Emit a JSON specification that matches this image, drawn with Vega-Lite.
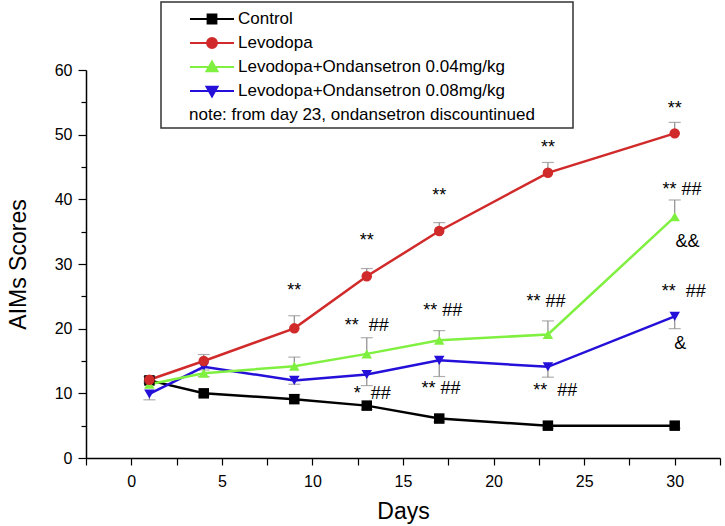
{
  "$schema": "https://vega.github.io/schema/vega-lite/v6.json",
  "width": 634,
  "height": 388,
  "autosize": "none",
  "padding": {"left": 86, "top": 70, "right": 5, "bottom": 68},
  "background": "white",
  "config": {
    "view": {"stroke": null},
    "font": "Liberation Sans",
    "axis": {"grid": false, "domainColor": "black", "domainWidth": 1.5, "tickColor": "black", "tickWidth": 1.2, "labelColor": "black", "titleColor": "black", "labelFont": "Liberation Sans", "titleFont": "Liberation Sans", "titleFontWeight": "normal", "labelFontSize": 16, "titleFontSize": 23}
  },
  "datasets": {
    "series": [
      {"group": "Control", "day": 1, "value": 12, "err": 11.6},
      {"group": "Control", "day": 4, "value": 10, "err": 9.6},
      {"group": "Control", "day": 9, "value": 9.1, "err": 9.8},
      {"group": "Control", "day": 13, "value": 8.1, "err": 7.5},
      {"group": "Control", "day": 17, "value": 6.1, "err": 5.6},
      {"group": "Control", "day": 23, "value": 5, "err": 4.6},
      {"group": "Control", "day": 30, "value": 5, "err": 4.6},
      {"group": "Levodopa+Ondansetron 0.08mg/kg", "day": 1, "value": 9.9, "err": 9.0},
      {"group": "Levodopa+Ondansetron 0.08mg/kg", "day": 4, "value": 14.1, "err": 12.6},
      {"group": "Levodopa+Ondansetron 0.08mg/kg", "day": 9, "value": 12, "err": 11.4},
      {"group": "Levodopa+Ondansetron 0.08mg/kg", "day": 13, "value": 12.9, "err": 11.2},
      {"group": "Levodopa+Ondansetron 0.08mg/kg", "day": 17, "value": 15.1, "err": 12.6},
      {"group": "Levodopa+Ondansetron 0.08mg/kg", "day": 23, "value": 14.1, "err": 12.5},
      {"group": "Levodopa+Ondansetron 0.08mg/kg", "day": 30, "value": 21.9, "err": 20.0},
      {"group": "Levodopa+Ondansetron 0.04mg/kg", "day": 1, "value": 11.4, "err": 11.9},
      {"group": "Levodopa+Ondansetron 0.04mg/kg", "day": 4, "value": 13.1, "err": 13.6},
      {"group": "Levodopa+Ondansetron 0.04mg/kg", "day": 9, "value": 14.2, "err": 15.6},
      {"group": "Levodopa+Ondansetron 0.04mg/kg", "day": 13, "value": 16.1, "err": 18.6},
      {"group": "Levodopa+Ondansetron 0.04mg/kg", "day": 17, "value": 18.2, "err": 19.7},
      {"group": "Levodopa+Ondansetron 0.04mg/kg", "day": 23, "value": 19.1, "err": 21.2},
      {"group": "Levodopa+Ondansetron 0.04mg/kg", "day": 30, "value": 37.3, "err": 39.9},
      {"group": "Levodopa", "day": 1, "value": 12.1, "err": 12.6},
      {"group": "Levodopa", "day": 4, "value": 15.0, "err": 16.0},
      {"group": "Levodopa", "day": 9, "value": 20.05, "err": 22.0},
      {"group": "Levodopa", "day": 13, "value": 28.1, "err": 29.3},
      {"group": "Levodopa", "day": 17, "value": 35.1, "err": 36.4},
      {"group": "Levodopa", "day": 23, "value": 44.1, "err": 45.7},
      {"group": "Levodopa", "day": 30, "value": 50.2, "err": 51.9}
    ],
    "ann": [
      {"day": 9, "value": 25.9, "text": "**"},
      {"day": 13, "value": 33.5, "text": "**"},
      {"day": 17, "value": 40.5, "text": "**"},
      {"day": 23, "value": 48.0, "text": "**"},
      {"day": 30, "value": 53.9, "text": "**"},
      {"day": 13, "value": 20.4, "text": "** \u00a0##"},
      {"day": 17.2, "value": 22.7, "text": "** ##"},
      {"day": 22.9, "value": 24.1, "text": "** ##"},
      {"day": 30.4, "value": 41.4, "text": "** ##"},
      {"day": 30.7, "value": 33.4, "text": "&&"},
      {"day": 17.1, "value": 10.6, "text": "** ##"},
      {"day": 23.4, "value": 10.3, "text": "** \u00a0##"},
      {"day": 30.5, "value": 25.6, "text": "** \u00a0##"},
      {"day": 30.3, "value": 17.7, "text": "&"},
      {"day": 13.3, "value": 9.9, "text": "* \u00a0##"}
    ]
  },
  "encoding": {
    "x": {"field": "day", "type": "quantitative", "title": "Days",
      "scale": {"domain": [-2.5, 32.5], "nice": false, "zero": false},
      "axis": {"values": [-2.5, 0, 2.5, 5, 7.5, 10, 12.5, 15, 17.5, 20, 22.5, 25, 27.5, 30, 32.5], "labelExpr": "datum.value % 5 === 0 ? datum.label : ''", "tickSize": 7, "labelPadding": 8, "titlePadding": 11, "labelFlush": false}},
    "y": {"field": "value", "type": "quantitative", "title": "AIMs Scores",
      "scale": {"domain": [0, 60], "nice": false},
      "axis": {"values": [0, 5, 10, 15, 20, 25, 30, 35, 40, 45, 50, 55, 60], "labelExpr": "datum.value % 10 === 0 ? datum.label : ''", "tickSize": {"condition": {"test": "datum.value % 10 === 0", "value": 8}, "value": 5}, "labelPadding": 6, "titlePadding": 24}}
  },
  "layer": [
    {
      "data": {"name": "series"},
      "mark": {"type": "rule", "color": "#8c8c8c", "strokeWidth": 1.2},
      "encoding": {"y2": {"field": "err"}}
    },
    {
      "data": {"name": "series"},
      "mark": {"type": "tick", "orient": "horizontal", "color": "#8c8c8c", "size": 12, "thickness": 1.2},
      "encoding": {"y": {"field": "err", "type": "quantitative", "title": "AIMs Scores"}}
    },
    {
      "data": {"name": "series"},
      "mark": {"type": "line", "strokeWidth": 2.5},
      "encoding": {
        "color": {"field": "group", "type": "nominal",
          "scale": {"domain": ["Control", "Levodopa", "Levodopa+Ondansetron 0.04mg/kg", "Levodopa+Ondansetron 0.08mg/kg"], "range": ["#000000", "#d02a2a", "#80f040", "#2410d8"]},
          "legend": {
            "title": "note: from day 23, ondansetron discountinued",
            "orient": "none", "legendX": 75, "legendY": -68,
            "titleOrient": "bottom", "titleAnchor": "start", "titleFontWeight": "normal", "titleFontSize": 17, "titleColor": "black", "titleFont": "Liberation Sans", "titlePadding": 6, "titleLimit": 0,
            "labelFontSize": 17, "labelColor": "black", "labelFont": "Liberation Sans", "labelOffset": 14, "labelLimit": 0,
            "padding": 5, "strokeColor": "#333333", "fillColor": "white", "rowPadding": 3, "symbolOffset": 34,
            "symbolSize": 484, "symbolStrokeWidth": 2,
            "encode": {
              "legend": {"update": {"strokeWidth": {"value": 1.5}}},
              "title": {"update": {"dx": {"value": 23}}},
              "symbols": {"update": {
                "shape": {"signal": "datum.value === 'Control' ? 'M32,0M-2,0H2M-0.4,-0.4H0.4V0.4H-0.4Z' : datum.value === 'Levodopa' ? 'M32,0M-2,0H2M-0.45,0A0.45,0.45 0 1,1 0.45,0A0.45,0.45 0 1,1 -0.45,0Z' : datum.value === 'Levodopa+Ondansetron 0.04mg/kg' ? 'M32,0M-2,0H2M0,-0.5L0.5,0.38L-0.5,0.38Z' : 'M32,0M-2,0H2M0,0.5L0.5,-0.38L-0.5,-0.38Z'"},
                "stroke": {"signal": "scale('color', datum.value)"},
                "fill": {"signal": "scale('color', datum.value)"},
                "opacity": {"value": 1},
                "strokeWidth": {"value": 2}
              }}
            }
          }
        }
      }
    },
    {
      "data": {"name": "series"},
      "transform": [{"filter": "datum.group === 'Control'"}],
      "mark": {"type": "point", "shape": "square", "filled": true, "opacity": 1, "size": 110},
      "encoding": {"color": {"field": "group", "type": "nominal"}}
    },
    {
      "data": {"name": "series"},
      "transform": [{"filter": "datum.group === 'Levodopa+Ondansetron 0.08mg/kg'"}],
      "mark": {"type": "point", "shape": "triangle-down", "filled": true, "opacity": 1, "size": 110},
      "encoding": {"color": {"field": "group", "type": "nominal"}}
    },
    {
      "data": {"name": "series"},
      "transform": [{"filter": "datum.group === 'Levodopa+Ondansetron 0.04mg/kg'"}],
      "mark": {"type": "point", "shape": "triangle-up", "filled": true, "opacity": 1, "size": 110},
      "encoding": {"color": {"field": "group", "type": "nominal"}}
    },
    {
      "data": {"name": "series"},
      "transform": [{"filter": "datum.group === 'Levodopa'"}],
      "mark": {"type": "point", "shape": "circle", "filled": true, "opacity": 1, "size": 110},
      "encoding": {"color": {"field": "group", "type": "nominal"}}
    },
    {
      "data": {"name": "ann"},
      "mark": {"type": "text", "fontSize": 18, "baseline": "middle", "align": "center", "color": "black", "font": "Liberation Sans"},
      "encoding": {"text": {"field": "text"}}
    }
  ]
}
